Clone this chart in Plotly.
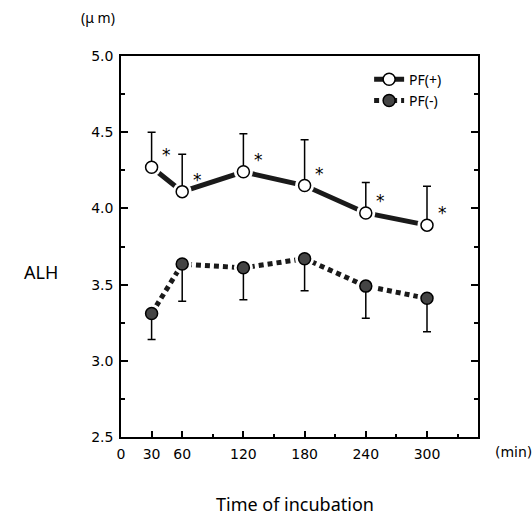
import plotly.graph_objects as go

time_min = [30, 60, 120, 180, 240, 300]
pf_plus = [4.27, 4.11, 4.24, 4.15, 3.97, 3.89]
pf_plus_sd = [0.23, 0.245, 0.25, 0.30, 0.20, 0.255]
pf_minus = [3.31, 3.635, 3.61, 3.67, 3.49, 3.41]
pf_minus_sd = [0.17, 0.245, 0.21, 0.21, 0.21, 0.22]
sig_marks = ["*", "*", "*", "*", "*", "*"]

x_tickvals = [0, 30, 60, 120, 180, 240, 300]
x_ticktext = ["0", "30", "60", "120", "180", "240", "300"]
x_minor = [90, 150, 210, 270, 330]
y_tickvals = [2.5, 3.0, 3.5, 4.0, 4.5, 5.0]
y_ticktext = ["2.5", "3.0", "3.5", "4.0", "4.5", "5.0"]

NUM_FONT = "DejaVu Sans"
TXT_FONT = "Noto Sans"
DARK = "#1a1a1a"

fig = go.Figure()

def add_series(name, y, err, up, fill, dash):
    fig.add_trace(go.Scatter(
        x=time_min, y=y, name=name, mode="lines+markers",
        line=dict(color=DARK, width=5, dash=dash),
        marker=dict(symbol="circle", size=12, color=fill, line=dict(color="black", width=1.5)),
        showlegend=True,
    ))
    fig.add_trace(go.Scatter(
        x=time_min, y=y, mode="markers", hoverinfo="skip",
        marker=dict(symbol="circle", size=19, color="white", line=dict(width=0)),
        showlegend=False,
    ))
    zeros = [0] * len(err)
    fig.add_trace(go.Scatter(
        x=time_min, y=y, mode="markers", name=name,
        marker=dict(symbol="circle", size=12, color=fill, line=dict(color="black", width=1.5)),
        error_y=dict(type="data", symmetric=False,
                     array=err if up else zeros,
                     arrayminus=zeros if up else err,
                     color="black", thickness=1.5, width=4),
        showlegend=False,
    ))

add_series("PF(+)", pf_plus, pf_plus_sd, True, "white", "solid")
add_series("PF(-)", pf_minus, pf_minus_sd, False, "#444444", "5px,4px")

annotations = []
for t, v, s in zip(time_min, pf_plus, sig_marks):
    annotations.append(dict(x=t, y=v, text=s, showarrow=False, xshift=15, yshift=12,
                            font=dict(family=NUM_FONT, size=17, color="black")))

annotations += [
    dict(xref="paper", yref="paper", x=-0.011, y=1.1, text="(\u03bc m)", showarrow=False,
         xanchor="right", yanchor="middle", font=dict(family=TXT_FONT, size=14, color="black")),
    dict(xref="paper", yref="paper", x=-0.171, y=0.433, text="ALH", showarrow=False,
         xanchor="right", yanchor="middle", font=dict(family=TXT_FONT, size=18, color="black")),
    dict(xref="paper", yref="paper", x=0.487, y=-0.177, text="Time of incubation", showarrow=False,
         xanchor="center", yanchor="middle", font=dict(family=TXT_FONT, size=18, color="black")),
    dict(xref="paper", yref="paper", x=1.042, y=-0.039, text="(min)", showarrow=False,
         xanchor="left", yanchor="middle", font=dict(family=NUM_FONT, size=14, color="black")),
]

fig.update_layout(
    width=532, height=517,
    margin=dict(l=121, r=54, t=56, b=80),
    paper_bgcolor="white", plot_bgcolor="white",
    showlegend=True,
    legend=dict(x=0.695, y=0.98, xanchor="left", yanchor="top",
                bgcolor="rgba(0,0,0,0)", borderwidth=0,
                font=dict(family=TXT_FONT, size=14, color="black"),
                tracegroupgap=2),
    annotations=annotations,
    xaxis=dict(range=[0, 350], tickmode="array", tickvals=x_tickvals, ticktext=x_ticktext,
               ticks="inside", ticklen=6, tickwidth=1.5, tickcolor="black",
               minor=dict(tickmode="array", tickvals=x_minor, ticks="inside", ticklen=3,
                          tickwidth=1.5, tickcolor="black"),
               showline=True, linecolor="black", linewidth=1.5, mirror=True,
               showgrid=False, zeroline=False, ticklabelstandoff=3,
               tickfont=dict(family=NUM_FONT, size=14, color="black")),
    yaxis=dict(range=[2.5, 5.0], tickmode="array", tickvals=y_tickvals, ticktext=y_ticktext,
               ticks="inside", ticklen=7, tickwidth=1.5, tickcolor="black",
               minor=dict(dtick=0.25, ticks="inside", ticklen=4, tickwidth=1.5, tickcolor="black"),
               showline=True, linecolor="black", linewidth=1.5, mirror="ticks",
               showgrid=False, zeroline=False, ticklabelstandoff=3,
               tickfont=dict(family=NUM_FONT, size=14, color="black")),
)

fig.write_html("out.html", config={"displayModeBar": False},
               post_script="document.body.style.margin='0';")
